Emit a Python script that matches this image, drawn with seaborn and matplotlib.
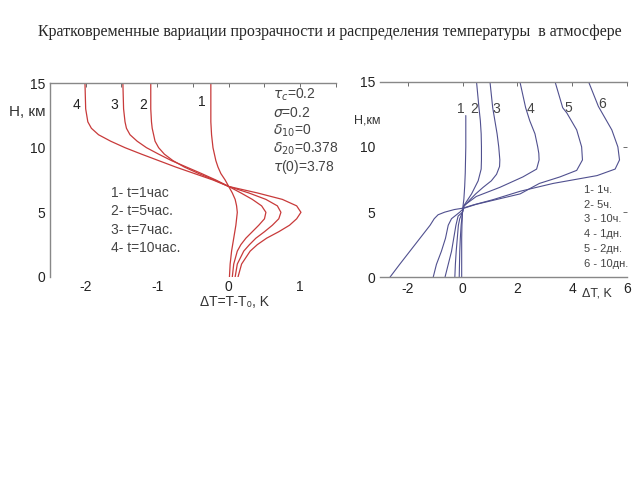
import pandas as pd
import seaborn as sns
import matplotlib.pyplot as plt

# Left panel: short-period variation, curves 1-4 (t = 1, 5, 7, 10 h)
h_left = [0, 1, 2, 2.5, 3, 3.5, 4, 4.5, 5, 5.5, 6, 6.5, 7, 7.5, 8, 8.5, 9, 9.5, 10, 10.5, 11, 11.5, 12, 13, 15]
dt_left_1 = [0.01, 0.02, 0.04, 0.055, 0.07, 0.085, 0.10, 0.11, 0.12, 0.11, 0.09, 0.05, 0.0, -0.05, -0.11, -0.15, -0.18, -0.20, -0.22, -0.23, -0.24, -0.245, -0.25, -0.25, -0.25]
dt_left_2 = [0.05, 0.07, 0.12, 0.17, 0.24, 0.33, 0.42, 0.50, 0.52, 0.46, 0.33, 0.17, 0.0, -0.20, -0.42, -0.62, -0.78, -0.90, -0.98, -1.03, -1.05, -1.07, -1.08, -1.09, -1.09]
dt_left_3 = [0.09, 0.12, 0.21, 0.29, 0.38, 0.50, 0.61, 0.70, 0.73, 0.68, 0.52, 0.28, 0.0, -0.18, -0.38, -0.59, -0.80, -0.98, -1.15, -1.28, -1.38, -1.43, -1.45, -1.47, -1.48]
dt_left_4 = [0.13, 0.18, 0.30, 0.40, 0.53, 0.70, 0.85, 0.95, 1.01, 0.95, 0.75, 0.40, 0.0, -0.22, -0.48, -0.74, -0.98, -1.22, -1.45, -1.65, -1.82, -1.92, -1.97, -2.00, -2.01]
left_names = ['1', '2', '3', '4']
left_label_x = [-0.37, -1.19, -1.60, -2.13]
left_label_y = [13.5, 13.3, 13.3, 13.3]
left_legend = ['1- t=1час', '2- t=5час.', '3- t=7час.', '4- t=10час.']
params = [r'$\tau_c$=0.2', r'$\sigma$=0.2', r'$\delta_{10}$=0', r'$\delta_{20}$=0.378', r'$\tau$(0)=3.78']

# Right panel: curves 1-6 (1h, 5h, 10h, 1 day, 2 days, 10 days)
h_r1 = [0, 3, 4, 5, 5.5, 6, 7, 8, 10, 12.4]
dt_r1 = [-0.03, -0.03, -0.02, 0.0, 0.02, 0.05, 0.08, 0.10, 0.12, 0.12]
h_r2 = [0, 1, 2, 3, 4, 5, 5.5, 6.4, 7.4, 8.3, 9, 10, 11, 12, 13, 15]
dt_r2 = [-0.12, -0.11, -0.10, -0.08, -0.05, 0.0, 0.05, 0.33, 0.57, 0.68, 0.69, 0.69, 0.68, 0.65, 0.60, 0.51]
h_r3 = [0, 1, 2, 3, 4, 4.5, 5, 5.4, 5.9, 6.4, 6.9, 7.4, 7.9, 8.5, 9, 10, 11, 12, 13, 15]
dt_r3 = [-0.28, -0.26, -0.23, -0.19, -0.15, -0.10, 0.0, 0.03, 0.25, 0.48, 0.75, 1.05, 1.24, 1.35, 1.36, 1.32, 1.26, 1.18, 1.10, 1.00]
h_r4 = [0, 1, 2, 3, 4, 4.7, 5, 5.5, 6.2, 6.9, 7.7, 8.3, 9, 9.5, 10, 11, 12, 13, 15]
dt_r4 = [-0.64, -0.52, -0.40, -0.32, -0.24, -0.16, 0.0, 0.05, 0.50, 1.36, 2.20, 2.70, 2.79, 2.78, 2.74, 2.64, 2.45, 2.30, 2.09]
h_r5 = [0, 1, 2, 3, 4, 4.5, 5, 5.3, 5.6, 6.0, 6.4, 7.2, 7.7, 8.2, 9, 10, 11.3, 12.6, 13, 15]
dt_r5 = [-1.07, -0.95, -0.77, -0.62, -0.52, -0.40, -0.10, 0.05, 0.50, 1.30, 2.10, 2.80, 3.55, 4.16, 4.37, 4.34, 4.16, 3.80, 3.65, 3.37]
h_r6 = [0, 1, 2, 3, 4, 4.5, 4.8, 5.0, 5.2, 5.3, 5.56, 5.95, 6.6, 7.2, 7.8, 8.3, 9, 10, 11.3, 13.1, 15]
dt_r6 = [-2.65, -2.29, -1.92, -1.55, -1.18, -1.03, -0.89, -0.65, -0.30, 0.0, 0.40, 1.10, 2.10, 3.30, 4.90, 5.56, 5.72, 5.66, 5.44, 4.95, 4.59]
right_names = ['1', '2', '3', '4', '5', '6']
right_label_x = [-0.05, 0.41, 1.24, 2.48, 3.85, 5.07]
right_label_y = [12.9, 12.9, 12.9, 12.9, 13.0, 13.3]
right_legend = ['1- 1ч.', '2- 5ч.', '3 - 10ч.', '4 - 1дн.', '5 - 2дн.', '6 - 10дн.']

title = 'Кратковременные вариации прозрачности и распределения температуры  в атмосфере'

# long-form tables for seaborn
left_df = pd.concat([
    pd.DataFrame({'dT': d, 'H': h_left, 'curve': n})
    for n, d in zip(left_names, [dt_left_1, dt_left_2, dt_left_3, dt_left_4])
])
right_df = pd.concat([
    pd.DataFrame({'dT': d, 'H': h, 'curve': n})
    for n, h, d in zip(right_names,
                       [h_r1, h_r2, h_r3, h_r4, h_r5, h_r6],
                       [dt_r1, dt_r2, dt_r3, dt_r4, dt_r5, dt_r6])
])

sns.set_theme(style='white')
plt.rcParams['font.family'] = ['Liberation Sans', 'DejaVu Sans']
plt.rcParams['mathtext.fontset'] = 'dejavusans'
plt.rcParams['axes.unicode_minus'] = False

fig = plt.figure(figsize=(6.4, 4.8), dpi=100)
fig.text(0.515, 0.933, title, ha='center', va='center', fontsize=11.5,
         family=['Liberation Serif', 'DejaVu Serif'])

# ---- left panel
ax1 = fig.add_axes([0.078, 0.423, 0.447, 0.404])
sns.lineplot(data=left_df, x='dT', y='H', hue='curve', palette=['#c83a3a'] * 4,
             orient='y', estimator=None, legend=False, linewidth=0.9, ax=ax1)
ax1.set_xlim(-2.5, 1.5)
ax1.set_ylim(0, 15)
ax1.set_xticks([-2, -1, 0, 1])
ax1.set_xticks([-2.5, -1.5, -0.5, 0.5, 1.5], minor=True)
ax1.set_yticks([0, 5, 10, 15])
ax1.set_yticks([2.5, 7.5, 12.5], minor=True)
ax1.tick_params(which='both', direction='in', top=True, length=3, width=0.6,
                labelsize=10, colors='#555555', labelcolor='#222222')
ax1.tick_params(axis='x', pad=2)
for s in ['bottom', 'right']:
    ax1.spines[s].set_visible(False)
for s in ['top', 'left']:
    ax1.spines[s].set_color('#888888')
    ax1.spines[s].set_linewidth(1.0)
ax1.set_xlabel('')
ax1.set_ylabel('')
ax1.text(-0.08, 0.85, 'H, км', transform=ax1.transAxes, ha='center', va='center',
         fontsize=11, color='#333333')
ax1.text(0.08, -0.13, 'ΔT=T-T₀, K', transform=ax1.get_xaxis_transform(),
         ha='center', va='center', fontsize=10, color='#333333')
for n, x, y in zip(left_names, left_label_x, left_label_y):
    ax1.text(x, y, n, ha='center', va='center', fontsize=10, color='#222222')
for i, p in enumerate(params):
    ax1.text(0.62, 14.1 - i * 1.4, p, ha='left', va='center', fontsize=10, color='#444444')
for i, t in enumerate(left_legend):
    ax1.text(-1.65, 6.5 - i * 1.42, t, ha='left', va='center', fontsize=10, color='#444444')

# ---- right panel
ax2 = fig.add_axes([0.594, 0.422, 0.386, 0.408])
sns.lineplot(data=right_df, x='dT', y='H', hue='curve', palette=['#50508f'] * 6,
             orient='y', estimator=None, legend=False, linewidth=0.8, ax=ax2)
ax2.set_xlim(-3, 6)
ax2.set_ylim(0, 15)
ax2.set_xticks([-2, 0, 2, 4, 6])
ax2.set_yticks([0, 5, 10, 15])
ax2.set_yticks([2.5, 7.5, 12.5], minor=True)
ax2.tick_params(which='both', direction='in', top=True, right=True, length=3, width=0.6,
                labelsize=10, colors='#555555', labelcolor='#222222')
ax2.tick_params(which='minor', right=False)
for s in ['left', 'right']:
    ax2.spines[s].set_visible(False)
for s in ['top', 'bottom']:
    ax2.spines[s].set_color('#888888')
    ax2.spines[s].set_linewidth(1.0)
ax2.set_xlabel('')
ax2.set_ylabel('')
ax2.text(-0.053, 0.80, 'H,км', transform=ax2.transAxes, ha='center', va='center',
         fontsize=9, color='#333333')
ax2.text(4.9, -0.08, 'ΔT, K', transform=ax2.get_xaxis_transform(),
         ha='center', va='center', fontsize=9, color='#333333')
for n, x, y in zip(right_names, right_label_x, right_label_y):
    ax2.text(x, y, n, ha='center', va='center', fontsize=10, color='#444444')
for i, t in enumerate(right_legend):
    ax2.text(4.42, 6.7 - i * 1.13, t, ha='left', va='center', fontsize=8,
             color='#444444', stretch='condensed')

fig.savefig('out.png', dpi=100)
